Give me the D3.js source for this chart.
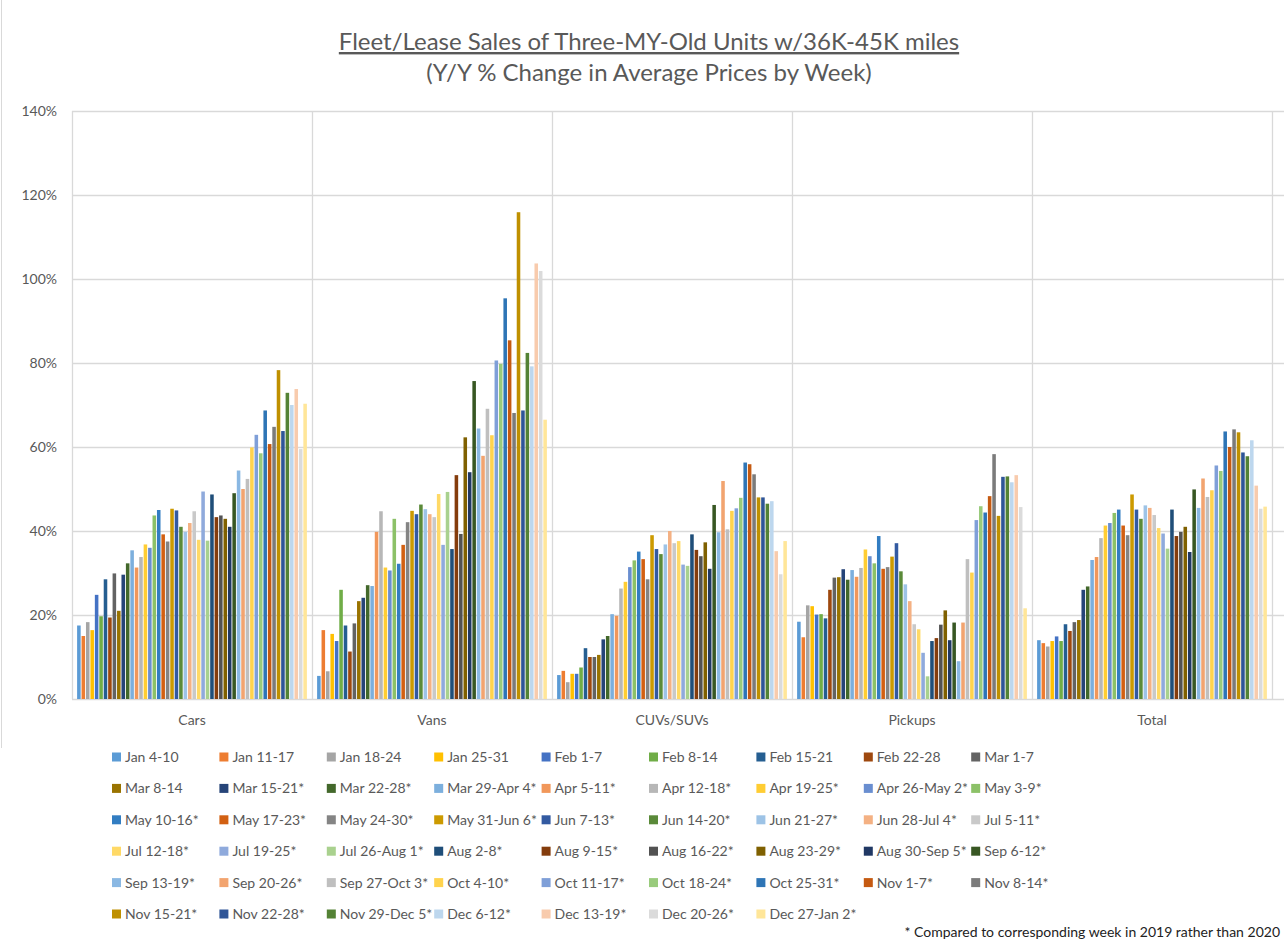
<!DOCTYPE html>
<html>
<head>
<meta charset="utf-8">
<script src="https://cdn.jsdelivr.net/npm/d3@7"></script>
<style>
  html, body { margin: 0; padding: 0; background: #fff; }
  svg { display: block; font-family: Lato, "Open Sans", sans-serif; }
</style>
</head>
<body>
<svg id="chart" width="1284" height="939"></svg>
<script>
const categories = ["Cars", "Vans", "CUVs/SUVs", "Pickups", "Total"];

const weeks = ["Jan 4-10","Jan 11-17","Jan 18-24","Jan 25-31","Feb 1-7","Feb 8-14","Feb 15-21","Feb 22-28","Mar 1-7",
  "Mar 8-14","Mar 15-21*","Mar 22-28*","Mar 29-Apr 4*","Apr 5-11*","Apr 12-18*","Apr 19-25*","Apr 26-May 2*","May 3-9*",
  "May 10-16*","May 17-23*","May 24-30*","May 31-Jun 6*","Jun 7-13*","Jun 14-20*","Jun 21-27*","Jun 28-Jul 4*","Jul 5-11*",
  "Jul 12-18*","Jul 19-25*","Jul 26-Aug 1*","Aug 2-8*","Aug 9-15*","Aug 16-22*","Aug 23-29*","Aug 30-Sep 5*","Sep 6-12*",
  "Sep 13-19*","Sep 20-26*","Sep 27-Oct 3*","Oct 4-10*","Oct 11-17*","Oct 18-24*","Oct 25-31*","Nov 1-7*","Nov 8-14*",
  "Nov 15-21*","Nov 22-28*","Nov 29-Dec 5*","Dec 6-12*","Dec 13-19*","Dec 20-26*","Dec 27-Jan 2*"];

// Y/Y % change per week, one array per category (in %)
const cars = [17.5,15.0,18.3,16.4,24.8,19.7,28.5,19.4,29.9,21.0,29.6,32.3,35.4,31.3,33.8,36.8,36.0,43.7,45.0,39.2,37.5,45.3,44.9,41.0,39.8,41.9,44.7,
  37.9,49.4,37.7,48.7,43.3,43.7,42.9,41.0,49.0,54.4,50.0,52.4,59.9,62.9,58.5,68.7,60.7,64.8,78.3,63.8,72.9,70.0,73.8,59.5,70.3];
const vans = [5.5,16.4,6.6,15.5,13.8,26.0,17.5,11.3,18.0,23.3,24.1,27.1,26.9,39.8,44.7,31.3,30.6,42.9,32.2,36.7,42.1,44.8,44.0,46.3,45.2,44.0,43.3,
  48.8,36.7,49.3,35.7,53.3,39.3,62.3,54.0,75.7,64.4,57.9,69.1,62.8,80.6,79.8,95.4,85.4,68.1,115.9,68.7,82.4,79.2,103.7,101.9,66.5];
const cuvs = [5.7,6.7,4.0,6.0,6.0,7.5,12.1,10.0,10.0,10.5,14.2,15.0,20.2,19.8,26.3,27.9,31.4,33.0,35.1,33.3,28.5,39.0,35.7,34.5,36.8,40.0,37.1,
  37.6,32.0,31.7,39.2,35.5,34.0,37.3,31.0,46.2,39.7,51.9,40.4,44.8,45.4,47.9,56.3,55.9,53.5,48.0,48.0,46.5,47.1,35.2,29.7,37.6];
const pickups = [18.4,14.7,22.3,22.1,20.1,20.2,19.2,26.0,28.9,29.0,30.9,28.4,30.7,29.1,31.2,35.6,34.0,32.3,38.8,31.0,31.4,33.9,37.1,30.4,27.3,23.3,17.8,
  16.6,11.0,5.4,13.8,14.5,17.7,21.1,14.0,18.2,9.0,18.2,33.3,30.1,42.6,45.9,44.4,48.3,58.3,43.6,52.9,53.0,51.6,53.3,45.7,21.6];
const total = [14.0,13.3,12.5,13.8,14.9,13.8,17.8,16.2,18.3,18.8,26.0,26.8,33.1,33.8,38.3,41.3,41.9,44.3,45.1,41.3,39.0,48.7,45.1,42.9,46.1,45.5,43.8,
  40.7,39.4,35.8,45.1,38.8,39.8,41.0,35.0,49.9,45.5,52.5,48.1,49.7,55.6,54.3,63.7,60.0,64.2,63.5,58.7,57.8,61.6,50.8,45.3,45.8];

const yTicks = [0, 20, 40, 60, 80, 100, 120, 140];

const colors = ["#5B9BD5","#ED7D31","#A5A5A5","#FFC000","#4472C4","#70AD47",
  "#255E91","#9E480E","#636363","#997300","#264478","#43682B",
  "#7CAFDD","#F1975A","#B7B7B7","#FFCD33","#698ED0","#8CC168",
  "#327DC2","#D26012","#848484","#CC9A00","#335AA1","#5A8A39",
  "#9DC3E6","#F4B183","#C9C9C9","#FFD966","#8FAADC","#A9D18E",
  "#1F4E79","#843C0C","#525252","#7F6000","#203864","#385723",
  "#8AB8E3","#F2A46F","#BFBFBF","#FFD34D","#7F9FD8","#99CB7C",
  "#2E75B6","#C55A11","#7B7B7B","#BF9000","#2F5597","#548235",
  "#BDD7EE","#F8CBAD","#DBDBDB","#FFE699"];

const seriesByCategory = [cars, vans, cuvs, pickups, total];
const rows = categories.map((c, i) => ({ category: c, values: seriesByCategory[i] }));

const svg = d3.select("#chart");
const plot = { left: 72, right: 1272, top: 111, bottom: 699 };

const x0 = d3.scaleBand().domain(categories).range([plot.left, plot.right]).paddingInner(0).paddingOuter(0);
const x1 = d3.scaleBand().domain(weeks).range([0, x0.bandwidth()]).paddingInner(0).paddingOuter(1.05);
const y = d3.scaleLinear().domain([0, 140]).range([plot.bottom, plot.top]);
const color = d3.scaleOrdinal().domain(weeks).range(colors);

// left border line of chart area
svg.append("line").attr("x1", 1.5).attr("x2", 1.5).attr("y1", 0).attr("y2", 748)
  .attr("stroke", "#D9D9D9").attr("stroke-width", 1);

// horizontal gridlines
svg.append("g").selectAll("line").data(yTicks).join("line")
  .attr("x1", plot.left).attr("x2", 1284)
  .attr("y1", d => Math.round(y(d)) + 0.5).attr("y2", d => Math.round(y(d)) + 0.5)
  .attr("stroke", "#D9D9D9").attr("stroke-width", 1.3);

// vertical gridlines at category boundaries
const bounds = categories.map(c => x0(c)).concat([plot.right]);
svg.append("g").selectAll("line").data(bounds).join("line")
  .attr("x1", d => Math.round(d) + 0.5).attr("x2", d => Math.round(d) + 0.5)
  .attr("y1", plot.top).attr("y2", plot.bottom)
  .attr("stroke", "#D9D9D9").attr("stroke-width", 1.3);

// y axis labels
const yAxis = d3.axisLeft(y).tickValues(yTicks).tickFormat(d => d + "%").tickSize(0).tickPadding(15);
const gy = svg.append("g").attr("transform", `translate(${plot.left},0)`).call(yAxis);
gy.select(".domain").remove();
gy.selectAll("text").attr("font-size", 14).attr("fill", "#595959").attr("font-family", "Lato, sans-serif");

// x axis labels
const xAxis = d3.axisBottom(x0).tickSize(0).tickPadding(16);
const gx = svg.append("g").attr("transform", `translate(0,${plot.bottom})`).call(xAxis);
gx.select(".domain").remove();
gx.selectAll("text").attr("font-size", 14).attr("fill", "#595959").attr("font-family", "Lato, sans-serif");

// bars
const barW = x1.bandwidth() * 0.8;
const groups = svg.append("g").selectAll("g").data(rows).join("g")
  .attr("transform", d => `translate(${x0(d.category)},0)`);
groups.selectAll("rect")
  .data(d => d.values.map((v, i) => ({ week: weeks[i], value: v })))
  .join("rect")
  .attr("x", d => x1(d.week) + (x1.bandwidth() - barW) / 2)
  .attr("width", barW)
  .attr("y", d => y(d.value))
  .attr("height", d => y(0) - y(d.value))
  .attr("fill", d => color(d.week));

// title
svg.append("text").attr("x", 649).attr("y", 50).attr("text-anchor", "middle")
  .attr("font-size", 24).attr("fill", "#595959").attr("text-decoration", "underline")
  .text("Fleet/Lease Sales of Three-MY-Old Units w/36K-45K miles");
svg.append("text").attr("x", 649).attr("y", 81).attr("text-anchor", "middle")
  .attr("font-size", 24).attr("fill", "#595959")
  .text("(Y/Y % Change in Average Prices by Week)");

// legend
const legend = svg.append("g").selectAll("g").data(weeks).join("g")
  .attr("transform", (d, i) => `translate(${112 + (i % 9) * 107.4},${757 + Math.floor(i / 9) * 31.4})`);
legend.append("rect").attr("x", 0).attr("y", -4.5).attr("width", 9).attr("height", 9)
  .attr("fill", d => color(d));
legend.append("text").attr("x", 13).attr("y", 5).attr("font-size", 14).attr("fill", "#595959")
  .text(d => d);

// footnote
svg.append("text").attr("x", 1280).attr("y", 937).attr("text-anchor", "end")
  .attr("font-size", 14).attr("fill", "#222")
  .text("* Compared to corresponding week in 2019 rather than 2020");
</script>
</body>
</html>
